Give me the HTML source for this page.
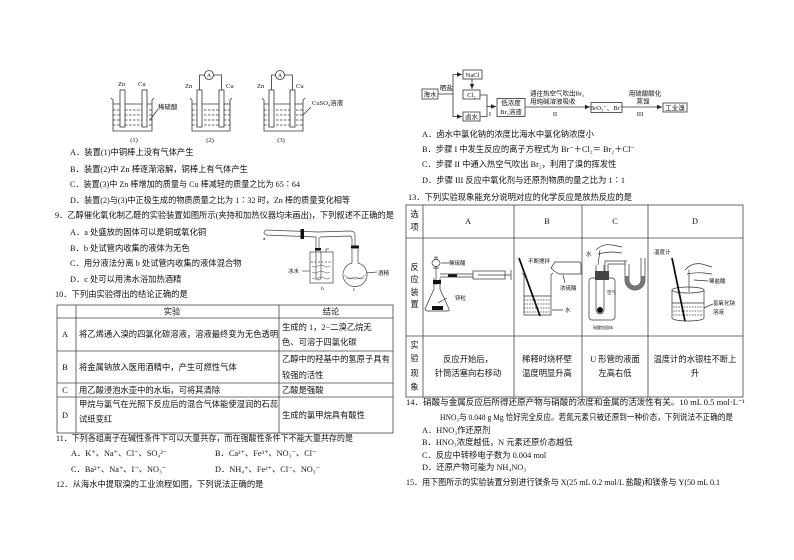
<!DOCTYPE html>
<html><head><meta charset="utf-8">
<style>
html,body{margin:0;padding:0;background:#fff;}
svg{display:block;}
text{font-family:"Liberation Serif","Noto Sans CJK SC",sans-serif;fill:#111;}
.t{font-size:8.3px;}
.s{font-size:6.5px;}
.xs{font-size:5.5px;}
.m{text-anchor:middle;}
</style></head><body>
<svg width="794" height="560" viewBox="0 0 794 560" xmlns="http://www.w3.org/2000/svg">
<defs><marker id="ar" markerWidth="6" markerHeight="6" refX="5" refY="3" orient="auto" markerUnits="userSpaceOnUse"><path d="M0,0.8 L5,3 L0,5.2Z" fill="#222"/></marker></defs>

<!-- ===== Q8 diagrams ===== -->
<g stroke="#333" stroke-width="0.8" fill="none">
  <path d="M111,98 L113,100 V131 H152 V100 L154,98"/>
  <line x1="113" y1="104" x2="152" y2="104"/>
  <g stroke-dasharray="2.5,1.5">
    <line x1="113" y1="110" x2="152" y2="110"/><line x1="113" y1="115" x2="152" y2="115"/>
    <line x1="113" y1="120" x2="152" y2="120"/><line x1="113" y1="125" x2="152" y2="125"/>
  </g>
  <path d="M190,98 L192,100 V131 H230 V100 L232,98"/>
  <line x1="192" y1="104" x2="230" y2="104"/>
  <g stroke-dasharray="2.5,1.5">
    <line x1="192" y1="110" x2="230" y2="110"/><line x1="192" y1="115" x2="230" y2="115"/>
    <line x1="192" y1="120" x2="230" y2="120"/><line x1="192" y1="125" x2="230" y2="125"/>
  </g>
  <path d="M262,98 L264,100 V131 H303 V100 L305,98"/>
  <line x1="264" y1="104" x2="303" y2="104"/>
  <g stroke-dasharray="2.5,1.5">
    <line x1="264" y1="110" x2="303" y2="110"/><line x1="264" y1="115" x2="303" y2="115"/>
    <line x1="264" y1="120" x2="303" y2="120"/><line x1="264" y1="125" x2="303" y2="125"/>
  </g>
  <g fill="#fff">
    <rect x="120" y="90" width="5" height="37"/><rect x="142" y="90" width="5" height="37"/>
    <rect x="197" y="90" width="5" height="37"/><rect x="219" y="90" width="5" height="37"/>
    <rect x="269" y="90" width="5" height="37"/><rect x="290" y="90" width="5" height="37"/>
  </g>
  <path d="M199.5,90 V75 H204.5 M213.5,75 H221.5 V90"/>
  <circle cx="209" cy="75" r="4.5" fill="#fff"/>
  <path d="M271.5,90 V75 H275.5 M284.5,75 H292.5 V90"/>
  <circle cx="280" cy="75" r="4.5" fill="#fff"/>
  <line x1="158" y1="109" x2="150" y2="120"/>
  <line x1="311" y1="107" x2="303" y2="115"/>
</g>
<text class="xs m" x="209" y="77">A</text>
<text class="xs m" x="280" y="77">A</text>
<text class="s" x="118" y="86">Zn</text><text class="s" x="138" y="86">Cu</text>
<text class="s" x="185" y="88">Zn</text><text class="s" x="226" y="88">Cu</text>
<text class="s" x="257" y="88">Zn</text><text class="s" x="296" y="88">Cu</text>
<text class="s" x="158" y="109">稀硫酸</text>
<text class="s" x="312" y="105">CuSO₄溶液</text>
<text class="s m" x="134" y="142">(1)</text>
<text class="s m" x="210" y="142">(2)</text>
<text class="s m" x="281" y="142">(3)</text>

<text class="t" x="70" y="155">A．装置(1)中铜棒上没有气体产生</text>
<text class="t" x="70" y="172">B．装置(2)中 Zn 棒逐渐溶解，铜棒上有气体产生</text>
<text class="t" x="70" y="187" textLength="230" lengthAdjust="spacingAndGlyphs">C．装置(3)中 Zn 棒增加的质量与 Cu 棒减轻的质量之比为 65∶64</text>
<text class="t" x="70" y="203" textLength="280" lengthAdjust="spacingAndGlyphs">D．装置(2)与(3)中正极生成的物质质量之比为 1∶32 时，Zn 棒的质量变化相等</text>
<text class="t" x="55" y="218" textLength="339" lengthAdjust="spacingAndGlyphs">9．乙醇催化氧化制乙醛的实验装置如图所示(夹持和加热仪器均未画出)，下列叙述不正确的是</text>
<text class="t" x="70" y="235">A．a 处盛放的固体可以是铜或氧化铜</text>
<text class="t" x="70" y="251">B．b 处试管内收集的液体为无色</text>
<text class="t" x="70" y="266">C．用分液法分离 b 处试管内收集的液体混合物</text>
<text class="t" x="70" y="282">D．c 处可以用沸水浴加热酒精</text>
<text class="t" x="55" y="297">10．下列由实验得出的结论正确的是</text>

<!-- Q9 apparatus -->
<g stroke="#444" stroke-width="0.7" fill="none">
  <path d="M266,230 L318,232 L350,231 Q355,231 355,235 V247"/>
  <path d="M266,235 L316,237 V251 M320,237 L350,236 Q352,236 352,240 V247"/>
  <path d="M266,230 Q262,232.5 266,235"/>
  <path d="M319,237 V251"/>
  <rect x="310" y="252" width="23" height="31"/>
  <path d="M326,252 V249 H329"/>
  <path d="M316,251 V278 Q318.5,282 321,278 V251"/>
  <path d="M311,262 H332" stroke-dasharray="2,1.5"/>
  <path d="M312,266 q3,2 6,0 q3,-2 6,0 q3,2 6,0 M312,272 q3,2 6,0 q3,-2 6,0 q3,2 6,0 M312,278 q3,2 6,0 q3,-2 6,0 q3,2 6,0" stroke-width="0.5"/>
  <line x1="302" y1="271" x2="310" y2="271"/>
  <path d="M352,249 V263 A12,12 0 1 0 358,263 V249"/>
  <path d="M344,275 Q355,283 366,275" stroke-width="0.5"/>
  <path d="M346,278 q3,2 6,0 q3,-2 6,0 q3,2 6,0" stroke-width="0.5"/>
  <line x1="366" y1="273" x2="377" y2="272"/>
</g>
<rect x="300.5" y="229" width="3.5" height="10" fill="#111"/>
<rect x="315" y="248" width="6" height="2.5" fill="#111"/>
<rect x="351" y="245.5" width="8" height="3" fill="#111"/>
<text class="xs" x="263" y="240">a</text>
<text class="xs" x="288" y="273">冰水</text>
<text class="xs" x="321" y="290">b</text>
<text class="xs" x="378" y="275">酒精</text>
<text class="xs" x="353" y="291">c</text>

<!-- ===== Q10 table ===== -->
<g stroke="#444" stroke-width="0.8" fill="none">
  <rect x="57" y="305" width="336" height="128"/>
  <line x1="76" y1="305" x2="76" y2="433"/>
  <line x1="279" y1="305" x2="279" y2="433"/>
  <line x1="57" y1="318" x2="393" y2="318"/>
  <line x1="57" y1="351" x2="393" y2="351"/>
  <line x1="57" y1="383" x2="393" y2="383"/>
  <line x1="57" y1="397" x2="393" y2="397"/>
</g>
<text class="t m" x="172" y="314.5">实验</text>
<text class="t m" x="331" y="314.5">结论</text>
<text class="t m" x="65" y="337">A</text>
<text class="t" x="79" y="337">将乙烯通入溴的四氯化碳溶液，溶液最终变为无色透明</text>
<text class="t" x="282" y="330">生成的 1，2−二溴乙烷无</text>
<text class="t" x="282" y="345">色、可溶于四氯化碳</text>
<text class="t m" x="65" y="370">B</text>
<text class="t" x="79" y="370">将金属钠放入医用酒精中，产生可燃性气体</text>
<text class="t" x="282" y="362">乙醇中的羟基中的氢原子具有</text>
<text class="t" x="282" y="378">较强的活性</text>
<text class="t m" x="65" y="393">C</text>
<text class="t" x="79" y="393">用乙酸浸泡水壶中的水垢，可将其清除</text>
<text class="t" x="282" y="393">乙酸是强酸</text>
<text class="t m" x="65" y="418">D</text>
<text class="t" x="79" y="407">甲烷与氯气在光照下反应后的混合气体能使湿润的石蕊</text>
<text class="t" x="79" y="422">试纸变红</text>
<text class="t" x="282" y="418">生成的氯甲烷具有酸性</text>

<text class="t" x="56" y="441" textLength="297" lengthAdjust="spacingAndGlyphs">11．下列各组离子在碱性条件下可以大量共存，而在强酸性条件下不能大量共存的是</text>
<text class="t" x="71" y="456">A．K⁺、Na⁺、Cl⁻、SO₄²⁻</text>
<text class="t" x="215" y="456">B．Ca²⁺、Fe³⁺、NO₃⁻、Cl⁻</text>
<text class="t" x="71" y="472">C．Ba²⁺、Na⁺、I⁻、NO₃⁻</text>
<text class="t" x="215" y="472">D．NH₄⁺、Fe²⁺、Cl⁻、NO₃⁻</text>
<text class="t" x="56" y="487">12．从海水中提取溴的工业流程如图，下列说法正确的是</text>

<!-- ===== Q12 flow diagram ===== -->
<g stroke="#333" stroke-width="0.8" fill="none">
  <rect x="422" y="89" width="16" height="10"/>
  <rect x="463" y="70" width="19" height="9"/>
  <rect x="463" y="90" width="17" height="9"/>
  <rect x="463" y="112" width="17" height="9"/>
  <rect x="497" y="98.5" width="28" height="18"/>
  <rect x="591" y="102.5" width="31" height="10"/>
  <rect x="663" y="103" width="24" height="9"/>
  <path d="M438,94 H453 M453,74.5 V116.5"/>
  <path d="M453,74.5 H462" marker-end="url(#ar)"/>
  <path d="M453,116.5 H462" marker-end="url(#ar)"/>
  <path d="M472,79 V89" marker-end="url(#ar)"/>
  <path d="M480,95 H487 V116.5 H480"/>
  <path d="M487,106.5 H496" marker-end="url(#ar)"/>
  <path d="M525,107 H590" marker-end="url(#ar)"/>
  <path d="M622,107 H662" marker-end="url(#ar)"/>
</g>
<text class="s m" x="430" y="96.5">海水</text>
<text class="s" x="440" y="90">晒盐</text>
<text class="s m" x="472.5" y="77">NaCl</text>
<text class="s m" x="471.5" y="97">Cl₂</text>
<text class="s m" x="471.5" y="119">卤水</text>
<text class="s m" x="511" y="105">低浓度</text>
<text class="s m" x="511" y="114">Br₂溶液</text>
<text class="s m" x="490" y="116">I</text>
<text class="s" x="530" y="95.5">通往热空气吹出Br₂</text>
<text class="s" x="530" y="103.5">用纯碱溶液吸收</text>
<text class="s m" x="555" y="116">II</text>
<text class="s m" x="606.5" y="110">BrO₃⁻、Br⁻</text>
<text class="s m" x="645" y="95.5">用硫酸酸化</text>
<text class="s m" x="643" y="103.5">蒸馏</text>
<text class="s m" x="640" y="116">III</text>
<text class="s m" x="675" y="110">工业溴</text>

<text class="t" x="422" y="137">A．卤水中氯化钠的浓度比海水中氯化钠浓度小</text>
<text class="t" x="422" y="152">B．步骤 I 中发生反应的离子方程式为 Br⁻＋Cl₂＝ Br₂＋Cl⁻</text>
<text class="t" x="422" y="167">C．步骤 II 中通入热空气吹出 Br₂，利用了溴的挥发性</text>
<text class="t" x="422" y="183">D．步骤 III 反应中氧化剂与还原剂物质的量之比为 1∶1</text>
<text class="t" x="408" y="200">13．下列实验现象能充分说明对应的化学反应是放热反应的是</text>

<!-- ===== Q13 table ===== -->
<g stroke="#444" stroke-width="0.8" fill="none">
  <rect x="406" y="205" width="337" height="192"/>
  <line x1="423" y1="205" x2="423" y2="397"/>
  <line x1="514" y1="205" x2="514" y2="397"/>
  <line x1="582" y1="205" x2="582" y2="397"/>
  <line x1="648" y1="205" x2="648" y2="397"/>
  <line x1="406" y1="238" x2="743" y2="238"/>
  <line x1="406" y1="336" x2="743" y2="336"/>
</g>
<text class="t m" x="414.5" y="217">选</text>
<text class="t m" x="414.5" y="230">项</text>
<text class="t m" x="468" y="224">A</text>
<text class="t m" x="547" y="224">B</text>
<text class="t m" x="615" y="224">C</text>
<text class="t m" x="695" y="224">D</text>
<text class="t m" x="414.5" y="270">反</text>
<text class="t m" x="414.5" y="282">应</text>
<text class="t m" x="414.5" y="295">装</text>
<text class="t m" x="414.5" y="307">置</text>
<text class="t m" x="414.5" y="348">实</text>
<text class="t m" x="414.5" y="361">验</text>
<text class="t m" x="414.5" y="376">现</text>
<text class="t m" x="414.5" y="390">象</text>
<text class="t m" x="468" y="362">反应开始后，</text>
<text class="t m" x="468" y="376">针筒活塞向右移动</text>
<text class="t m" x="547" y="362">稀释时烧杯壁</text>
<text class="t m" x="547" y="376">温度明显升高</text>
<text class="t m" x="615" y="362">U 形管的液面</text>
<text class="t m" x="615" y="376">左高右低</text>
<text class="t m" x="695" y="362">温度计的水银柱不断上</text>
<text class="t m" x="695" y="376">升</text>

<!-- A cell drawing -->
<g stroke="#333" stroke-width="0.7" fill="none">
  <ellipse cx="436" cy="263" rx="4" ry="3.5"/>
  <path d="M435,257 V259.5 M437,257 V259.5 M434.5,257 H437.5"/>
  <path d="M433,268 H439 M436,266.5 V285"/>
  <path d="M434,278 V289 L425,309 Q425,311 428,311 H447 Q450,311 449,309 L440,289 V278"/>
  <path d="M440,274 H473 M440,277 H473"/>
  <rect x="473" y="271" width="32" height="8"/>
  <path d="M478,275 H511 M511,270 V280"/>
  <path d="M441,263 H449 M447,298 L438,303"/>
</g>
<rect x="433" y="280" width="8" height="4" fill="#111"/>
<rect x="448" y="274.3" width="9" height="2.6" fill="#111"/>
<rect x="432" y="306" width="11" height="4" fill="#111"/>
<text class="xs" x="449" y="265">稀硫酸</text>
<text class="xs" x="455" y="300">锌粒</text>

<!-- B cell drawing -->
<g stroke="#333" stroke-width="0.7" fill="none">
  <path d="M522,273 L524,275 V315 H551 V275 L553,273"/>
  <line x1="524" y1="296" x2="551" y2="296"/>
  <g stroke-dasharray="1.5,1.2">
    <line x1="524" y1="300" x2="551" y2="300"/><line x1="524" y1="304" x2="551" y2="304"/>
    <line x1="524" y1="308" x2="551" y2="308"/><line x1="524" y1="312" x2="551" y2="312"/>
  </g>
  <path d="M551,268 L555,262 H579 Q581,262 581,264 V274 H559 L554,271 Z"/>
  <path d="M565,283 L563,275 M552,310 H563"/>
</g>
<line x1="519" y1="258" x2="540" y2="316" stroke="#111" stroke-width="1.8"/>
<text class="xs" x="528" y="263">不断搅拌</text>
<text class="xs" x="560" y="290">浓硫酸</text>
<text class="xs" x="565" y="312">水</text>

<!-- C cell drawing -->
<g stroke="#333" stroke-width="0.7" fill="none">
  <rect x="589" y="278" width="26" height="42" rx="3"/>
  <path d="M596,265 V310 A4,4 0 0 0 604,310 V265"/>
  <path d="M605,271 V261 H627 M605,264 V271 M608,271 V264 H625"/>
  <path d="M625,261 V280 A10,10 0 0 0 645,280 V258 M629,264 V280 A6,6 0 0 0 641,280 V258"/>
  <path d="M596,250 Q603,243 612,245 L622,247 M598,254 Q606,252 614,252 L622,253 M600,250 L598,265"/>
</g>
<path d="M625,276 V280 A10,10 0 0 0 645,280 V276 H641 V280 A6,6 0 0 1 629,280 V276 Z" fill="#777"/>
<rect x="595" y="271" width="14" height="9" fill="#444"/>
<circle cx="600" cy="310" r="3" fill="#111"/>
<text class="xs" x="586" y="256">水</text>
<text class="xs" x="607" y="294" style="font-size:4.5px">空气</text>
<text class="xs" x="593" y="329" style="font-size:4px">硝酸铵固体</text>

<!-- D cell drawing -->
<g stroke="#333" stroke-width="0.7" fill="none">
  <ellipse cx="688" cy="290" rx="16" ry="3"/>
  <path d="M672,290 V318 A16,3 0 0 0 704,318 V290"/>
  <line x1="672" y1="303" x2="704" y2="303"/>
  <g stroke-dasharray="1.5,1.2">
    <line x1="673" y1="307" x2="703" y2="307"/><line x1="673" y1="311" x2="703" y2="311"/><line x1="673" y1="315" x2="703" y2="315"/>
  </g>
  <path d="M685,270 Q692,262 702,264 L712,267 M687,274 Q696,272 704,273 L712,274 M689,270 L689,292"/>
  <path d="M694,280 L708,281 M704,308 L713,304"/>
</g>
<line x1="672" y1="258" x2="685" y2="321" stroke="#111" stroke-width="1.8"/>
<text class="xs" x="654" y="254">温度计</text>
<text class="xs" x="709" y="283">稀盐酸</text>
<text class="xs" x="713" y="305">氢氧化钠</text>
<text class="xs" x="713" y="314">溶液</text>

<!-- ===== Q14 / Q15 ===== -->
<text class="t" x="406" y="405" textLength="339" lengthAdjust="spacingAndGlyphs">14．硝酸与金属反应后所得还原产物与硝酸的浓度和金属的活泼性有关。10 mL 0.5 mol·L⁻¹</text>
<text class="t" x="440" y="420" textLength="293" lengthAdjust="spacingAndGlyphs">HNO₃与 0.048 g Mg 恰好完全反应。若氮元素只被还原到一种价态，下列说法不正确的是</text>
<text class="t" x="422" y="433">A．HNO₃作还原剂</text>
<text class="t" x="422" y="445">B．HNO₃浓度越低，N 元素还原价态越低</text>
<text class="t" x="422" y="458">C．反应中转移电子数为 0.004 mol</text>
<text class="t" x="422" y="470">D．还原产物可能为 NH₄NO₃</text>
<text class="t" x="406" y="485" textLength="314" lengthAdjust="spacingAndGlyphs">15．用下图所示的实验装置分别进行镁条与 X(25 mL 0.2 mol/L 盐酸)和镁条与 Y(50 mL 0.1</text>
</svg>
</body></html>
